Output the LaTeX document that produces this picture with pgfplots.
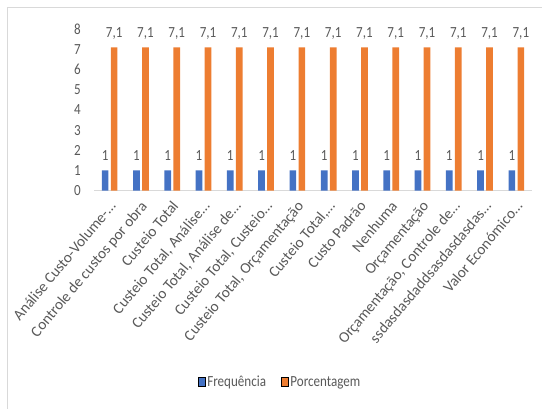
\documentclass[border=0pt]{standalone}
\usepackage{fontspec}
\setmainfont{Carlito}[FakeStretch=0.845]
\newfontfamily\catfont{Carlito}
\usepackage{pgfplots}
\usepackage{pgfplotstable}
\pgfplotsset{compat=1.18}

\definecolor{serieA}{HTML}{4472C4}
\definecolor{serieB}{HTML}{ED7D31}
\definecolor{txt}{HTML}{595959}
\definecolor{frame}{HTML}{D9D9D9}

% Frequência e porcentagem por categoria
\pgfplotstableread{
idx freq perc
0   1    7.1
1   1    7.1
2   1    7.1
3   1    7.1
4   1    7.1
5   1    7.1
6   1    7.1
7   1    7.1
8   1    7.1
9   1    7.1
10  1    7.1
11  1    7.1
12  1    7.1
13  1    7.1
}\dados

\begin{document}
\begin{tikzpicture}[x=1bp,y=1bp]
\useasboundingbox (0,0) rectangle (542,408);
\draw[frame, line width=1bp] (7.5,-5) rectangle (560,400);
\begin{axis}[
  at={(94bp,217.5bp)}, anchor=south west,
  scale only axis, width=438bp, height=161.2bp,
  xmin=-0.5, xmax=13.5, ymin=0, ymax=8,
  xtick={0,...,13},
  xticklabels={Análise Custo-Volume-…, Controle de custos por obra, Custeio Total,
    {Custeio Total, Análise…}, {Custeio Total, Análise de…}, {Custeio Total, Custeio…},
    {Custeio Total, Orçamentação}, {Custeio Total,…}, Custo Padrão, Nenhuma,
    Orçamentação, {Orçamentação, Controle de…}, ssdasdasdaddsasdasdasdas…, Valor Económico…},
  ytick={0,...,8},
  axis x line*=bottom, axis y line*=left,
  y axis line style={draw=none},
  x axis line style={draw=frame, line width=1bp, -},
  major tick length=0pt,
  /pgf/number format/assume math mode=true,
  /pgf/number format/use comma,
  tick label style={text=txt},
  yticklabel style={font=\fontsize{15.5}{17}\selectfont, anchor=east, inner sep=0pt, xshift=-13bp},
  xticklabel style={font=\catfont\fontsize{15.3}{17}\selectfont, inner sep=0pt,
    xshift=7bp, yshift=-16bp, rotate=50, anchor=base east},
  ybar, bar width=6.7bp,
  nodes near coords,
  every node near coord/.append style={font=\fontsize{15.5}{17}\selectfont, text=txt,
    anchor=base, inner sep=0pt, yshift=9.5bp},
  legend columns=2,
  legend image code/.code={\draw[#1] (0bp,-4.5bp) rectangle (7bp,4.5bp);},
  legend style={draw=none, fill=none, at={(0.425,-1.188)}, anchor=center,
    font=\fontsize{15.5}{17}\selectfont, text=txt,
    nodes={inner sep=2bp, xshift=2bp},
    /tikz/every even column/.append style={column sep=13bp}},
]
\addplot[fill=serieA, draw=none, bar shift=-4.5bp] table[x=idx, y=freq] {\dados};
\addplot[fill=serieB, draw=none, bar shift=4.5bp] table[x=idx, y=perc] {\dados};
\legend{Frequência, Porcentagem}
\end{axis}
\end{tikzpicture}
\end{document}
